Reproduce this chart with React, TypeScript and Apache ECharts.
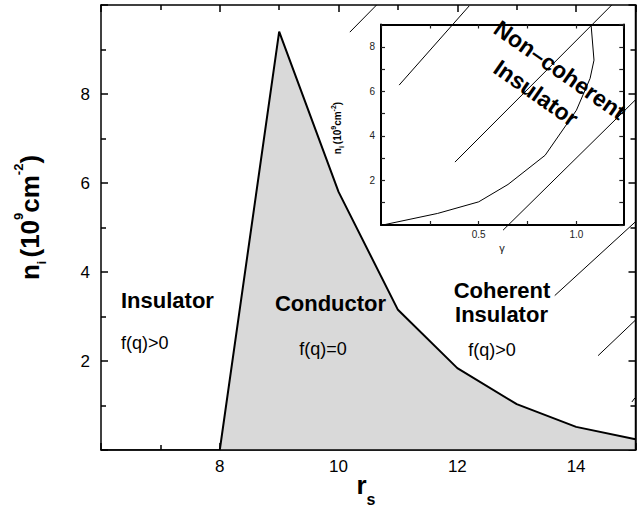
import React, { useEffect, useRef } from 'react';
import * as echarts from 'echarts';

const FONT = "'Liberation Sans', Arial, Helvetica, sans-serif";

// Main phase boundary (r_s vs n_i)
const rsValues = [8, 9, 10, 11, 12, 13, 14, 15];
const niValues = [0, 9.4, 5.8, 3.15, 1.84, 1.03, 0.52, 0.24];

// Inset curve (gamma vs n_i)
const gammaValues = [0.02, 0.29, 0.5, 0.65, 0.84, 1.0, 1.07, 1.09, 1.075];
const insetNiValues = [0.02, 0.52, 1.04, 1.82, 3.13, 5.15, 6.58, 7.4, 9.0];

// Diagonal line fragments (start / end points in r_s, n_i)
const hatchX1 = [10.19, 11.02, 11.96, 12.77, 13.64, 14.37, 14.94];
const hatchY1 = [9.39, 8.2, 6.47, 4.94, 3.47, 2.12, 1.08];
const hatchX2 = [10.64, 12.2, 14.6, 15.0, 15.0, 15.0, 14.99];
const hatchY2 = [10.0, 9.98, 10.0, 7.87, 5.13, 2.92, 1.17];

// Frame line (right and bottom edge), redrawn above the shaded area
const frameX = [15, 15, 6];
const frameY = [10, 0, 0];

const mainXTicks = { min: 6, max: 15, interval: 2 };
const mainYTicks = { min: 0, max: 10, interval: 2 };
const insetXTicks = { min: 0, max: 1.24, interval: 0.25 };
const insetYTicks = { min: 0, max: 9, interval: 1 };
const insetXLabels = [0.5, 1.0];
const insetYLabels = [2, 4, 6, 8];

const black = '#000';

function mainAxis(kind: 'x' | 'y', position: string, showLabel: boolean) {
  const t = kind === 'x' ? mainXTicks : mainYTicks;
  return {
    type: 'value',
    gridIndex: 0,
    position,
    min: t.min,
    max: t.max,
    interval: t.interval,
    axisLine: { show: true, onZero: false, lineStyle: { color: black, width: 1.5 } },
    axisTick: { show: true, inside: true, length: 7, lineStyle: { color: black, width: 1.5 } },
    minorTick: { show: true, splitNumber: 2, length: 5, lineStyle: { color: black, width: 1.5 } },
    splitLine: { show: false },
    axisLabel: {
      show: showLabel,
      showMinLabel: false,
      showMaxLabel: false,
      margin: kind === 'x' ? 8 : 11,
      fontSize: 17,
      color: black,
      fontFamily: FONT,
    },
  };
}

function insetAxis(kind: 'x' | 'y', position: string, showLabel: boolean) {
  const t = kind === 'x' ? insetXTicks : insetYTicks;
  const labels = kind === 'x' ? insetXLabels : insetYLabels;
  return {
    type: 'value',
    gridIndex: 1,
    position,
    min: t.min,
    max: t.max,
    interval: t.interval,
    axisLine: { show: true, onZero: false, lineStyle: { color: black, width: 2 } },
    axisTick: { show: true, inside: true, length: 4, lineStyle: { color: '#222', width: 1.2 } },
    splitLine: { show: false },
    axisLabel: {
      show: showLabel,
      showMinLabel: false,
      showMaxLabel: false,
      margin: kind === 'x' ? 4 : 6,
      fontSize: 10,
      color: '#222',
      fontFamily: FONT,
      formatter: (v: number) => {
        const hit = labels.find((l) => Math.abs(l - v) < 1e-6);
        if (hit === undefined) return '';
        return kind === 'x' ? hit.toFixed(1) : String(hit);
      },
    },
  };
}

function buildOption() {
  const boundary = rsValues.map((x, i) => [x, niValues[i]]);
  const inset = gammaValues.map((g, i) => [g, insetNiValues[i]]);
  const frame = frameX.map((x, i) => [x, frameY[i]]);

  const hatchSeries = hatchX1.map((x1, i) => ({
    type: 'line',
    xAxisIndex: 0,
    yAxisIndex: 0,
    data: [
      [x1, hatchY1[i]],
      [hatchX2[i], hatchY2[i]],
    ],
    symbol: 'none',
    silent: true,
    z: 4,
    lineStyle: { color: black, width: 1 },
  }));

  const bold = { fontFamily: FONT, fontWeight: 'bold', color: black };

  return {
    animation: false,
    backgroundColor: '#fff',
    grid: [
      { left: 101, top: 5, right: 7.5, bottom: 56 },
      { left: 381, top: 24.5, right: 19.7, bottom: 281 },
    ],
    xAxis: [
      mainAxis('x', 'bottom', true),
      mainAxis('x', 'top', false),
      insetAxis('x', 'bottom', true),
      insetAxis('x', 'top', false),
    ],
    yAxis: [
      mainAxis('y', 'left', true),
      mainAxis('y', 'right', false),
      insetAxis('y', 'left', true),
      insetAxis('y', 'right', false),
    ],
    series: [
      {
        type: 'line',
        xAxisIndex: 0,
        yAxisIndex: 0,
        data: boundary,
        symbol: 'none',
        silent: true,
        z: 2,
        lineStyle: { color: black, width: 2 },
        areaStyle: { color: '#d9d9d9', opacity: 1 },
      },
      {
        type: 'line',
        xAxisIndex: 0,
        yAxisIndex: 0,
        data: frame,
        symbol: 'none',
        silent: true,
        z: 3,
        lineStyle: { color: black, width: 1.5 },
      },
      ...hatchSeries,
      {
        type: 'line',
        xAxisIndex: 2,
        yAxisIndex: 2,
        data: inset,
        symbol: 'none',
        silent: true,
        z: 4,
        lineStyle: { color: black, width: 1 },
      },
    ],
    graphic: [
      {
        type: 'text',
        x: 29.5,
        y: 217.5,
        rotation: Math.PI / 2,
        z: 10,
        style: {
          text: '{m|n}{sb|i }{m|(10}{sp|9}{m|cm}{sp|-2}{m|)}',
          align: 'center',
          verticalAlign: 'middle',
          rich: {
            m: { ...bold, fontSize: 26, lineHeight: 36, verticalAlign: 'middle' },
            sb: { ...bold, fontSize: 12, lineHeight: 12, verticalAlign: 'bottom' },
            sp: { ...bold, fontSize: 13, lineHeight: 13, verticalAlign: 'top' },
          },
        },
      },
      {
        type: 'text',
        x: 366,
        y: 485,
        z: 10,
        style: {
          text: '{m|r}{sb|s}',
          align: 'center',
          verticalAlign: 'middle',
          rich: {
            m: { ...bold, fontSize: 26, lineHeight: 44, verticalAlign: 'middle' },
            sb: { ...bold, fontSize: 16, lineHeight: 16, verticalAlign: 'bottom' },
          },
        },
      },
      {
        type: 'text',
        x: 337,
        y: 128,
        rotation: Math.PI / 2,
        z: 10,
        style: {
          text: '{m|n}{sb|i }{m|(10}{sp|9}{m|cm}{sp|-2}{m|)}',
          align: 'center',
          verticalAlign: 'middle',
          rich: {
            m: { ...bold, fontSize: 10, lineHeight: 15, verticalAlign: 'middle' },
            sb: { ...bold, fontSize: 7, lineHeight: 7, verticalAlign: 'bottom' },
            sp: { ...bold, fontSize: 7, lineHeight: 7, verticalAlign: 'top' },
          },
        },
      },
      {
        type: 'text',
        x: 502,
        y: 248,
        z: 10,
        style: { text: 'γ', align: 'center', verticalAlign: 'middle', font: `11px ${FONT}`, fill: '#222' },
      },
      {
        type: 'text',
        x: 121,
        y: 300,
        z: 10,
        style: { text: 'Insulator', align: 'left', verticalAlign: 'middle', font: `bold 22px ${FONT}`, fill: black },
      },
      {
        type: 'text',
        x: 121,
        y: 343,
        z: 10,
        style: { text: 'f(q)>0', align: 'left', verticalAlign: 'middle', font: `18px ${FONT}`, fill: black },
      },
      {
        type: 'text',
        x: 330.5,
        y: 303,
        z: 10,
        style: { text: 'Conductor', align: 'center', verticalAlign: 'middle', font: `bold 22px ${FONT}`, fill: black },
      },
      {
        type: 'text',
        x: 323,
        y: 349,
        z: 10,
        style: { text: 'f(q)=0', align: 'center', verticalAlign: 'middle', font: `18px ${FONT}`, fill: black },
      },
      {
        type: 'text',
        x: 502,
        y: 290,
        z: 10,
        style: { text: 'Coherent', align: 'center', verticalAlign: 'middle', font: `bold 22px ${FONT}`, fill: black },
      },
      {
        type: 'text',
        x: 501.5,
        y: 314,
        z: 10,
        style: { text: 'Insulator', align: 'center', verticalAlign: 'middle', font: `bold 22px ${FONT}`, fill: black },
      },
      {
        type: 'text',
        x: 492,
        y: 350,
        z: 10,
        style: { text: 'f(q)>0', align: 'center', verticalAlign: 'middle', font: `18px ${FONT}`, fill: black },
      },
      {
        type: 'text',
        x: 560,
        y: 70,
        rotation: (-35 * Math.PI) / 180,
        z: 10,
        style: { text: 'Non–coherent', align: 'center', verticalAlign: 'middle', font: `bold 23px ${FONT}`, fill: black },
      },
      {
        type: 'text',
        x: 536,
        y: 93,
        rotation: (-35 * Math.PI) / 180,
        z: 10,
        style: { text: 'Insulator', align: 'center', verticalAlign: 'middle', font: `bold 23px ${FONT}`, fill: black },
      },
    ],
  };
}

export default function App() {
  const ref = useRef<HTMLDivElement>(null);
  useEffect(() => {
    if (!ref.current) return;
    const chart = echarts.init(ref.current, null, { renderer: 'svg' });
    chart.setOption(buildOption() as any);
    return () => chart.dispose();
  }, []);
  return (
    <div
      ref={ref}
      style={{ position: 'absolute', left: 0, top: 0, width: 643, height: 506, background: '#fff' }}
    />
  );
}
